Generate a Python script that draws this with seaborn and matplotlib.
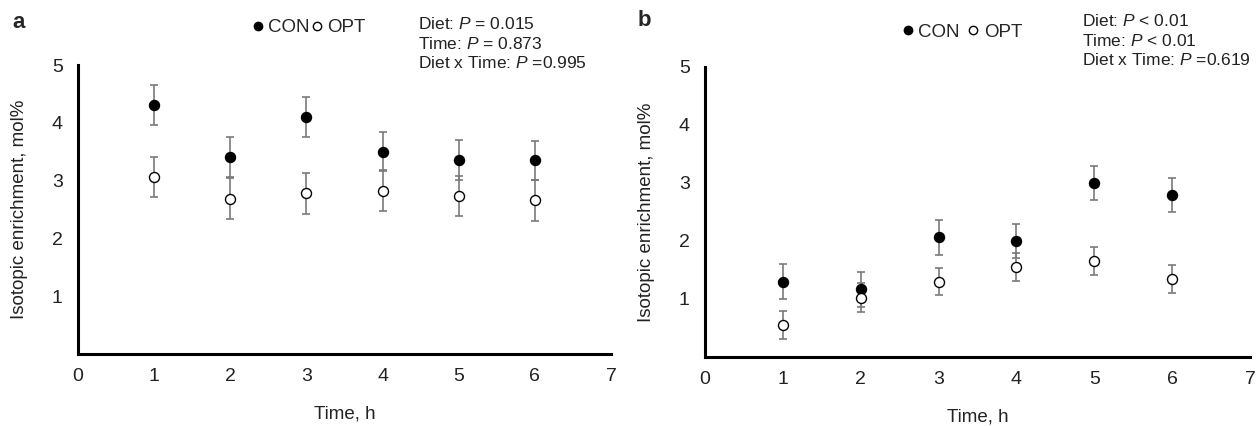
import numpy as np
import pandas as pd
import matplotlib
matplotlib.use("Agg")
import matplotlib.pyplot as plt
from matplotlib.lines import Line2D
import seaborn as sns

time_h = [1, 2, 3, 4, 5, 6]
a_con = [4.31, 3.41, 4.10, 3.50, 3.36, 3.35]
a_con_se = [0.35, 0.34, 0.35, 0.34, 0.35, 0.34]
a_opt = [3.06, 2.69, 2.78, 2.83, 2.74, 2.66]
a_opt_se = [0.35, 0.35, 0.35, 0.35, 0.35, 0.35]
b_con = [1.30, 1.17, 2.06, 2.00, 3.00, 2.79]
b_con_se = [0.30, 0.30, 0.30, 0.30, 0.30, 0.29]
b_opt = [0.55, 1.02, 1.30, 1.55, 1.65, 1.34]
b_opt_se = [0.24, 0.25, 0.24, 0.24, 0.24, 0.24]
x_ticks = [0, 1, 2, 3, 4, 5, 6, 7]
y_ticks = [1, 2, 3, 4, 5]
stats_a = ["Diet: $\\it{P}$ = 0.015", "Time: $\\it{P}$ = 0.873", "Diet x Time: $\\it{P}$ =0.995"]
stats_b = ["Diet: $\\it{P}$ < 0.01", "Time: $\\it{P}$ < 0.01", "Diet x Time: $\\it{P}$ =0.619"]

sns.set_style("white")
plt.rcParams['font.family'] = ['Liberation Sans', 'DejaVu Sans']
plt.rcParams['mathtext.fontset'] = 'custom'
plt.rcParams['mathtext.it'] = 'Liberation Sans:italic'
plt.rcParams['mathtext.rm'] = 'Liberation Sans'

fig = plt.figure(figsize=(12.58, 4.26), dpi=100)
ax_a = fig.add_axes([0.0620, 0.169, 0.4237, 0.678])
ax_b = fig.add_axes([0.5604, 0.162, 0.4332, 0.681])

def draw(ax, con, con_se, opt, opt_se, stats, letter, legend_sep, leg_pos, letter_pos, stat_pos):
    df = pd.DataFrame({
        "Time": time_h * 2,
        "Value": con + opt,
        "Diet": ["CON"] * 6 + ["OPT"] * 6,
    })
    for vals, se in ((con, con_se), (opt, opt_se)):
        ax.errorbar(time_h, vals, yerr=se, fmt='none', ecolor='#7a7a7a', elinewidth=1.2,
                    capsize=2.6, capthick=1.2, zorder=2)
    sns.scatterplot(data=df[df.Diet == "CON"], x="Time", y="Value", ax=ax, color='black',
                    edgecolor='black', s=52, linewidth=1, zorder=3, legend=False)
    sns.scatterplot(data=df[df.Diet == "OPT"], x="Time", y="Value", ax=ax, color='white',
                    edgecolor='black', s=52, linewidth=1, zorder=3, legend=False)
    ax.set_xlim(0, 7)
    ax.set_ylim(0, 5)
    ax.set_xticks(x_ticks)
    ax.set_yticks(y_ticks)
    ax.tick_params(axis='both', labelsize=14, length=0, colors='#222222')
    ax.tick_params(axis='x', pad=10)
    ax.tick_params(axis='y', pad=11)
    ax.set_xlabel("Time, h", fontsize=13.5, labelpad=15, color='#222222')
    ax.set_ylabel("Isotopic enrichment, mol%", fontsize=13.5, labelpad=17, color='#222222')
    for s in ['top', 'right']:
        ax.spines[s].set_visible(False)
    for s in ['left', 'bottom']:
        ax.spines[s].set_linewidth(2.2)
        ax.spines[s].set_color('black')
    handles = [Line2D([], [], marker='o', ls='none', mfc='black', mec='black', ms=6),
               Line2D([], [], marker='o', ls='none', mfc='white', mec='black', ms=6)]
    ax.legend(handles, ["CON", "OPT"], ncol=2, frameon=False, fontsize=13.5,
              handletextpad=0.15, columnspacing=legend_sep, handlelength=0.8,
              loc='center', bbox_to_anchor=leg_pos, bbox_transform=fig.transFigure)
    fig.text(letter_pos[0], letter_pos[1], letter, fontsize=16, fontweight='bold', va='center')
    for i, t in enumerate(stats):
        fig.text(stat_pos[0], stat_pos[1] - i * 0.0465, t, fontsize=12.5, va='center', color='#222222')

draw(ax_a, a_con, a_con_se, a_opt, a_opt_se, stats_a, "a", 0.0, (0.245, 0.935), (0.010, 0.948), (0.332, 0.944))
draw(ax_b, b_con, b_con_se, b_opt, b_opt_se, stats_b, "b", 0.35, (0.764, 0.925), (0.507, 0.952), (0.860, 0.951))

fig.savefig("out.png", dpi=100)
